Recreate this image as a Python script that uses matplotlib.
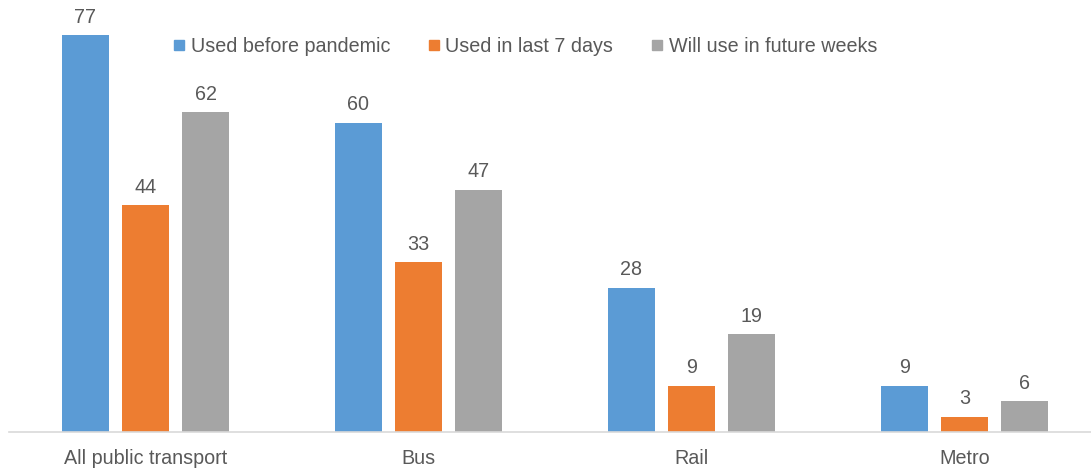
import matplotlib
matplotlib.use("Agg")
import matplotlib.pyplot as plt
from matplotlib.lines import Line2D
import numpy as np

categories = ["All public transport", "Bus", "Rail", "Metro"]
series_names = ["Used before pandemic", "Used in last 7 days", "Will use in future weeks"]
used_before = [77, 60, 28, 9]
used_last7 = [44, 33, 9, 3]
will_use = [62, 47, 19, 6]

colors = ["#5B9BD5", "#ED7D31", "#A5A5A5"]
text_color = "#595959"

plt.rcParams["font.family"] = ["Liberation Sans", "DejaVu Sans"]

fig = plt.figure(figsize=(10.91, 4.68), dpi=100)
W, H = 1091, 468
ax = fig.add_axes([9 / W, 36 / H, (W - 9) / W, 432 / H])

x = np.arange(len(categories))
width = 0.172
offset = 0.22
series = [used_before, used_last7, will_use]
for i, (vals, col) in enumerate(zip(series, colors)):
    pos = x + (i - 1) * offset
    ax.bar(pos, vals, width=width, color=col, zorder=2)
    for xb, v in zip(pos, vals):
        ax.annotate(f"{v}", (xb, v), xytext=(0, 6), textcoords="offset points",
                    ha="center", va="bottom", fontsize=14.2, color=text_color)

ax.set_xlim(-0.5, 3.463)
ax.set_ylim(0, 83.8)
ax.set_xticks(x)
ax.set_xticklabels(categories, fontsize=14.2, color=text_color)
ax.tick_params(axis="x", length=0, pad=12)
ax.set_yticks([])
for s in ["top", "right", "left"]:
    ax.spines[s].set_visible(False)
ax.spines["bottom"].set_color("#D9D9D9")
ax.spines["bottom"].set_linewidth(1.2)

handles = [Line2D([], [], marker="s", linestyle="none", markersize=7,
                  markerfacecolor=c, markeredgecolor=c) for c in colors]
ax.legend(handles, series_names, ncol=3, frameon=False, fontsize=14.2,
          loc="center", bbox_to_anchor=(516 / (W - 9), 1 - 46 / 432),
          handlelength=0.6, handletextpad=0.3, columnspacing=1.9,
          labelcolor=text_color)

fig.savefig("out.png", dpi=100)
